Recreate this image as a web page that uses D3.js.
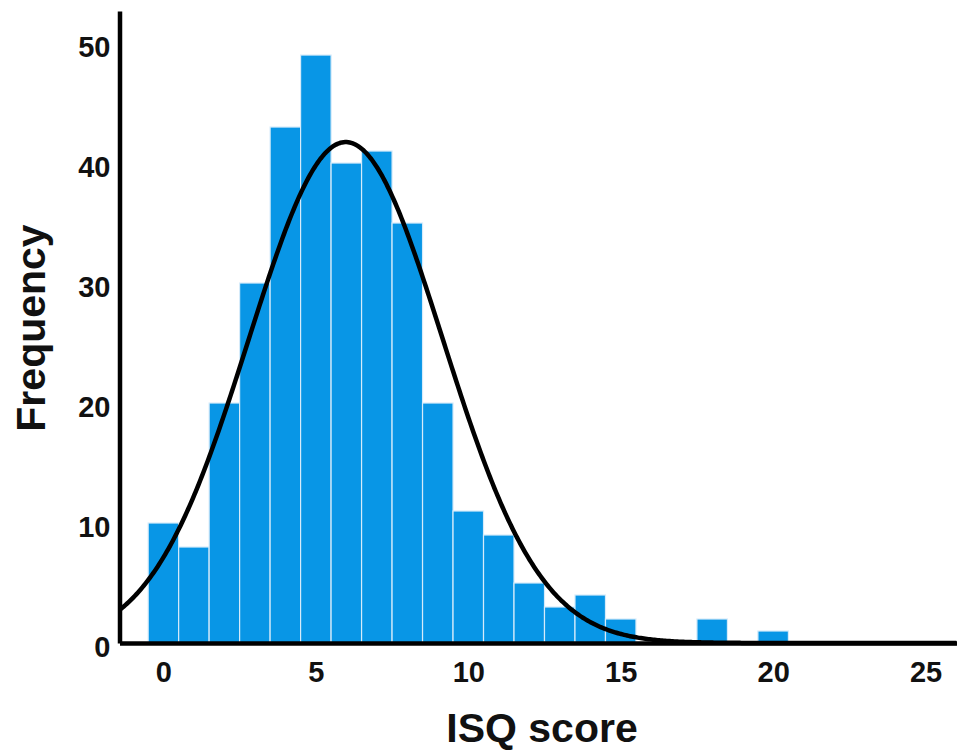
<!DOCTYPE html>
<html>
<head>
<meta charset="utf-8">
<title>ISQ score histogram</title>
<script src="https://cdn.jsdelivr.net/npm/d3@7"></script>
<style>
  body { margin: 0; background: #fff; }
  svg text { font-family: "Liberation Sans", Arial, sans-serif; font-weight: bold; fill: #111; }
  .axis path { stroke: #000; stroke-width: 4.5px; }
  .axis .tick line { display: none; }
  .axis .tick text { font-size: 29px; }
</style>
</head>
<body>
<div id="chart"></div>
<script>
// histogram bins, one per integer score
var scores = [0, 1, 2, 3, 4, 5, 6, 7, 8, 9, 10, 11, 12, 13, 14, 15, 16, 17, 18, 19, 20];
var counts = [10, 8, 20, 30, 43, 49, 40, 41, 35, 20, 11, 9, 5, 3, 4, 2, 0, 0, 2, 0, 1];
var xTicks = [0, 5, 10, 15, 20, 25];
var yTicks = [0, 10, 20, 30, 40, 50];

var width = 957, height = 751;

var svg = d3.select("#chart").append("svg")
    .attr("width", width)
    .attr("height", height);

var x = d3.scaleLinear().domain([-1.44, 26.03]).range([119.5, 957]);
var y = d3.scaleLinear().domain([0, 52.67]).range([643, 11]);

// normal fit from the binned data
var n = d3.sum(counts);
var mean = d3.sum(scores, function (s, i) { return s * counts[i]; }) / n;
var sd = Math.sqrt(d3.sum(scores, function (s, i) { return counts[i] * (s - mean) * (s - mean); }) / (n - 1));
function normal(v) {
    return n * Math.exp(-0.5 * Math.pow((v - mean) / sd, 2)) / (sd * Math.sqrt(2 * Math.PI));
}

var bins = scores.map(function (s, i) { return { s: s, c: counts[i] }; }).filter(function (d) { return d.c > 0; });

svg.selectAll("rect.bar").data(bins).enter().append("rect")
    .attr("class", "bar")
    .attr("x", function (d) { return x(d.s - 0.5); })
    .attr("width", function (d) { return x(d.s + 0.5) - x(d.s - 0.5); })
    .attr("y", function (d) { return y(d.c); })
    .attr("height", function (d) { return y(0) - y(d.c); })
    .style("fill", "#0896e6")
    .style("stroke", "#d6ebfa")
    .style("stroke-width", 1.2);

var curvePts = d3.range(x.domain()[0], x.domain()[1] + 0.01, 0.05);
var line = d3.line()
    .x(function (v) { return x(v); })
    .y(function (v) { return y(normal(v)); });

svg.append("path")
    .datum(curvePts)
    .attr("d", line)
    .style("fill", "none")
    .style("stroke", "#000")
    .style("stroke-width", 4.5);

var xAxis = svg.append("g")
    .attr("class", "axis")
    .attr("transform", "translate(0," + y(0) + ")")
    .call(d3.axisBottom(x).tickValues(xTicks).tickSize(0).tickSizeOuter(0).tickPadding(18));

var yAxis = svg.append("g")
    .attr("class", "axis")
    .attr("transform", "translate(" + x.range()[0] + ",0)")
    .call(d3.axisLeft(y).tickValues(yTicks).tickSize(0).tickSizeOuter(0).tickPadding(9));
yAxis.selectAll(".tick text").attr("dy", "0.46em");

svg.append("text")
    .attr("x", 542)
    .attr("y", 742)
    .attr("text-anchor", "middle")
    .style("font-size", "41px")
    .text("ISQ score");

svg.append("text")
    .attr("transform", "translate(45,328) rotate(-90)")
    .attr("text-anchor", "middle")
    .style("font-size", "41px")
    .text("Frequency");
</script>
</body>
</html>
